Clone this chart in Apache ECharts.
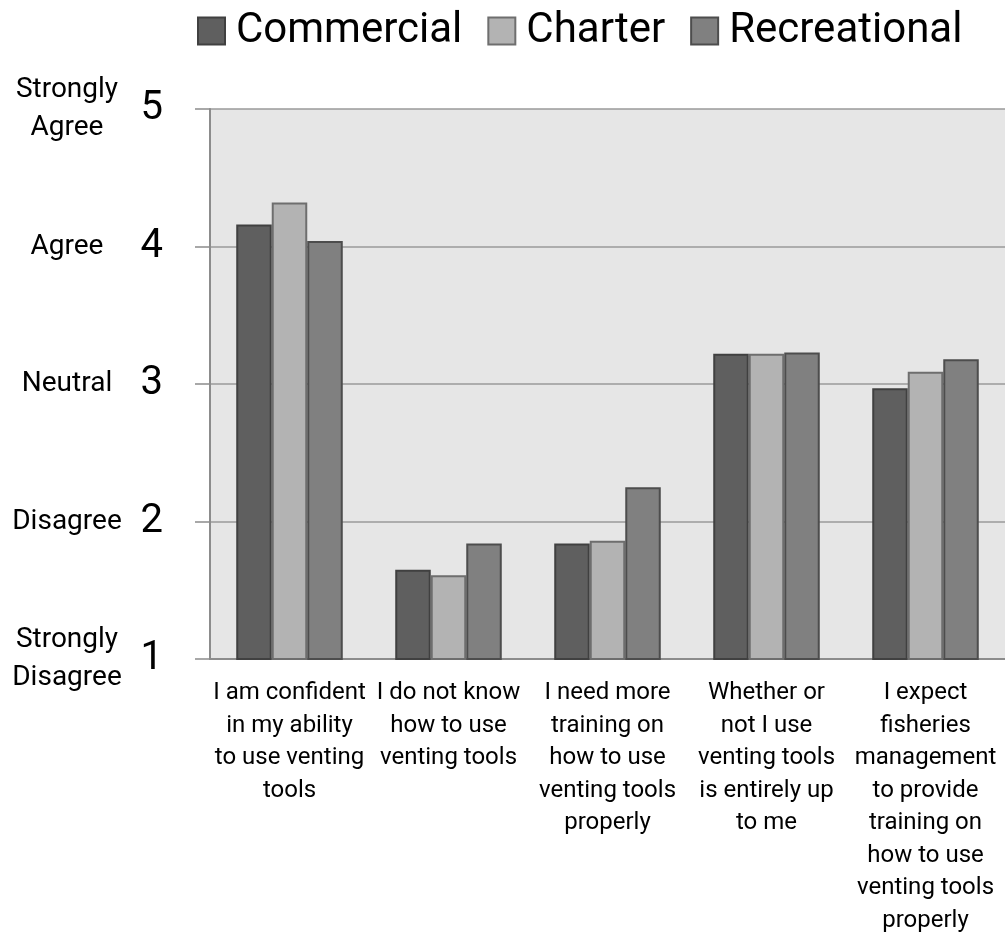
<!doctype html>
<html>
<head>
<meta charset="utf-8">
<title>Venting tools survey</title>
<script src="https://cdn.jsdelivr.net/npm/echarts@6/dist/echarts.min.js"></script>
<style>
  html, body { margin: 0; padding: 0; background: #fff; }
  #main { width: 1005px; height: 937px; }
</style>
</head>
<body>
<div id="main"></div>
<script>
  // survey statements (x axis)
  var categories = [
    'I am confident\nin my ability\nto use venting\ntools',
    'I do not know\nhow to use\nventing tools',
    'I need more\ntraining on\nhow to use\nventing tools\nproperly',
    'Whether or\nnot I use\nventing tools\nis entirely up\nto me',
    'I expect\nfisheries\nmanagement\nto provide\ntraining on\nhow to use\nventing tools\nproperly'
  ];
  var seriesNames = ['Commercial', 'Charter', 'Recreational'];
  var commercial = [4.16, 1.65, 1.84, 3.22, 2.97];
  var charter = [4.32, 1.61, 1.86, 3.22, 3.09];
  var recreational = [4.04, 1.84, 2.25, 3.23, 3.18];
  // likert scale words, value 1..5
  var scaleWords = ['Strongly\nDisagree', 'Disagree', 'Neutral', 'Agree', 'Strongly\nAgree'];

  var font = 'Roboto, sans-serif';
  var fills = ['#5f5f5f', '#b3b3b3', '#808080'];
  var borders = ['#404040', '#6e6e6e', '#4d4d4d'];
  var values = [commercial, charter, recreational];

  var series = [];
  for (var i = 0; i < seriesNames.length; i++) {
    series.push({
      name: seriesNames[i],
      type: 'bar',
      data: values[i],
      yAxisIndex: 0,
      barGap: '0%',
      barCategoryGap: '33%',
      itemStyle: { color: fills[i], borderColor: borders[i], borderWidth: 2 }
    });
  }

  var myChart = echarts.init(document.getElementById('main'));
  var option = {
    animation: false,
    textStyle: { fontFamily: font },
    legend: {
      top: 5,
      left: 192,
      itemWidth: 27,
      itemHeight: 27,
      itemGap: 25,
      icon: 'rect',
      data: seriesNames,
      textStyle: { fontFamily: font, fontSize: 42, color: '#000', padding: [0, 0, 0, 6] }
    },
    grid: {
      left: 210, right: 0, top: 109, bottom: 278,
      show: true, backgroundColor: '#e6e6e6', borderWidth: 0
    },
    xAxis: {
      type: 'category',
      data: categories,
      axisLine: { lineStyle: { color: '#8c8c8c', width: 2 } },
      axisTick: { length: 8, lineStyle: { color: '#8c8c8c', width: 1.5 } },
      axisLabel: {
        interval: 0, margin: 18, color: '#000',
        fontFamily: font, fontSize: 24, lineHeight: 32.5, align: 'center'
      }
    },
    yAxis: [{
      type: 'value', min: 1, max: 5, interval: 1,
      axisLine: { show: true, lineStyle: { color: '#8c8c8c', width: 2 } },
      axisTick: { show: true, length: 15, lineStyle: { color: '#8c8c8c', width: 1.5 } },
      splitLine: { lineStyle: { color: '#9a9a9a', width: 1.5 } },
      axisLabel: { margin: 47, color: '#000', fontFamily: font, fontSize: 40 }
    }, {
      type: 'value', min: 1, max: 5, interval: 1, position: 'left',
      axisLine: { show: false }, axisTick: { show: false }, splitLine: { show: false },
      axisLabel: {
        margin: 143, align: 'center', color: '#000',
        fontFamily: font, fontSize: 28, lineHeight: 38,
        formatter: function (v) { return scaleWords[v - 1]; }
      }
    }],
    series: series
  };
  myChart.setOption(option);
</script>
</body>
</html>
